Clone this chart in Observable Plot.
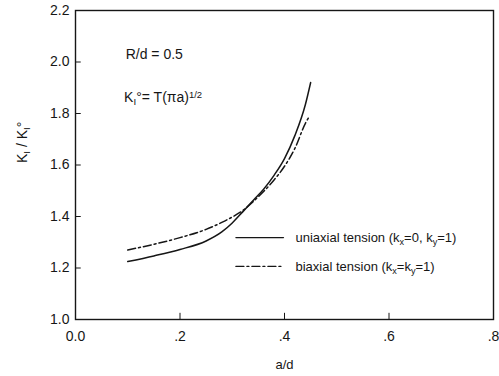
<!DOCTYPE html>
<html><head><meta charset="utf-8">
<script src="https://cdn.jsdelivr.net/npm/d3@7"></script>
<script src="https://cdn.jsdelivr.net/npm/@observablehq/plot@0.6"></script>
<style>
body{margin:0;background:#fff;}
#chart svg{font-family:"Liberation Sans",Arial,sans-serif;}
</style>
</head><body><div id="chart"></div>
<script>
// Data
const uniX = [0.10, 0.15, 0.20, 0.25, 0.28, 0.30, 0.32, 0.34, 0.36, 0.38, 0.40, 0.42, 0.44, 0.45];
const uniY = [1.225, 1.247, 1.272, 1.305, 1.340, 1.375, 1.418, 1.462, 1.506, 1.560, 1.625, 1.715, 1.835, 1.920];
const biX  = [0.10, 0.15, 0.20, 0.25, 0.28, 0.30, 0.32, 0.34, 0.36, 0.38, 0.40, 0.42, 0.44, 0.448];
const biY  = [1.270, 1.292, 1.318, 1.350, 1.377, 1.398, 1.423, 1.458, 1.497, 1.542, 1.595, 1.665, 1.762, 1.790];
const xTicks = [0, 0.2, 0.4, 0.6, 0.8];
const xTickLabels = ["0.0", ".2", ".4", ".6", ".8"];
const yTicks = [1.0, 1.2, 1.4, 1.6, 1.8, 2.0, 2.2];
const yTickLabels = ["1.0", "1.2", "1.4", "1.6", "1.8", "2.0", "2.2"];
const seriesNames = ["uniaxial tension (k_{x}=0, k_{y}=1)", "biaxial tension (k_{x}=k_{y}=1)"];
const annotations = ["R/d = 0.5", "K_{I}°= T(πa)^{1/2}"];

const uni = uniX.map((x, i) => ({x, y: uniY[i]}));
const bi = biX.map((x, i) => ({x, y: biY[i]}));
const dashBi = "8,3,2,3";
const ink = "#161616";

const legendRows = [
  {name: seriesNames[0], y: 1.318, dash: null},
  {name: seriesNames[1], y: 1.206, dash: dashBi}
];
const legendLines = legendRows.flatMap((r, i) => [
  {x: 0.307, y: r.y, k: i}, {x: 0.398, y: r.y, k: i}
]);

const chart = Plot.plot({
  width: 499,
  height: 376,
  marginLeft: 75,
  marginRight: 6,
  marginTop: 10,
  marginBottom: 57,
  style: {fontSize: "13px", color: ink, background: "#fff"},
  x: {domain: [0, 0.8]},
  y: {domain: [1.0, 2.2]},
  marks: [
    Plot.frame({stroke: ink, strokeWidth: 1.4}),
    // inward tick marks
    Plot.ruleY(yTicks.slice(1, -1), {x1: 0, x2: 0.011, stroke: ink, strokeWidth: 1}),
    Plot.ruleX(xTicks.slice(1, -1), {y1: 1.0, y2: 1.024, stroke: ink, strokeWidth: 1}),
    // tick labels
    Plot.axisY(yTicks, {tickSize: 0, tickPadding: 6, tickFormat: (d, i) => yTickLabels[i], fontSize: 14, label: null}),
    Plot.axisX(xTicks, {tickSize: 0, tickPadding: 12, tickFormat: (d, i) => xTickLabels[i], fontSize: 14, label: null}),
    // axis titles
    Plot.text(["a/d"], {frameAnchor: "bottom", dy: 49, fontSize: 13, fill: ink}),
    Plot.text(["K_{I} / K_{I}°"], {frameAnchor: "left", dx: -53, dy: -2, rotate: -90, fontSize: 14, fill: ink}),
    // curves
    Plot.line(uni, {x: "x", y: "y", curve: "monotone-x", stroke: ink, strokeWidth: 1.5}),
    Plot.line(bi, {x: "x", y: "y", curve: "monotone-x", stroke: ink, strokeWidth: 1.5, strokeDasharray: dashBi}),
    // legend
    Plot.line(legendLines.filter(d => d.k === 0), {x: "x", y: "y", stroke: ink, strokeWidth: 1.3}),
    Plot.line(legendLines.filter(d => d.k === 1), {x: "x", y: "y", stroke: ink, strokeWidth: 1.3, strokeDasharray: dashBi}),
    Plot.text(legendRows, {x: 0.421, y: "y", text: "name", textAnchor: "start", fontSize: 13, fill: ink}),
    // annotations
    Plot.text([annotations[0]], {x: 0.096, y: 2.028, textAnchor: "start", fontSize: 14, fill: ink}),
    Plot.text([annotations[1]], {x: 0.093, y: 1.862, textAnchor: "start", fontSize: 14, fill: ink})
  ]
});

// Convert _{...} and ^{...} markup to real sub/superscript tspans
function richify(svg) {
  svg.querySelectorAll("text").forEach(t => {
    const targets = t.querySelector("tspan") ? [...t.querySelectorAll("tspan")] : [t];
    targets.forEach(el => {
      const s = el.textContent;
      if (!/[_^]\{/.test(s)) return;
      el.textContent = "";
      const parts = s.split(/(_\{[^}]*\}|\^\{[^}]*\})/);
      parts.forEach(p => {
        if (!p) return;
        const ts = document.createElementNS("http://www.w3.org/2000/svg", "tspan");
        if (p.startsWith("_{")) {
          ts.textContent = p.slice(2, -1);
          ts.setAttribute("baseline-shift", "-28%");
          ts.setAttribute("font-size", "70%");
        } else if (p.startsWith("^{")) {
          ts.textContent = p.slice(2, -1);
          ts.setAttribute("baseline-shift", "38%");
          ts.setAttribute("font-size", "68%");
        } else {
          ts.textContent = p;
        }
        el.appendChild(ts);
      });
    });
  });
}
richify(chart);
document.getElementById("chart").appendChild(chart);
</script>
</body></html>
